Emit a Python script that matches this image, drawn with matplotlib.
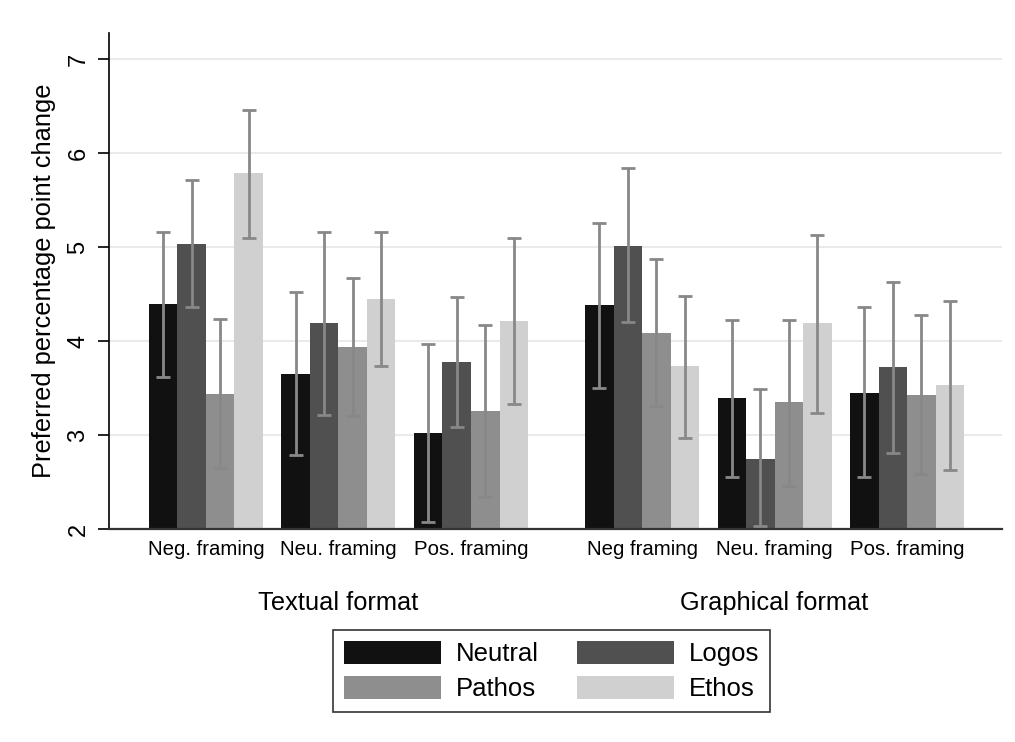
import matplotlib
matplotlib.use('Agg')
import matplotlib.pyplot as plt
import numpy as np

plt.rcParams['font.family'] = ['Liberation Sans', 'DejaVu Sans']

# categories
series = ['Neutral', 'Logos', 'Pathos', 'Ethos']
colores = ['#111111', '#505050', '#8e8e8e', '#d0d0d0']
framings = ['Neg. framing', 'Neu. framing', 'Pos. framing',
            'Neg framing', 'Neu. framing', 'Pos. framing']
formatos = ['Textual format', 'Graphical format']

# means per framing group (rows) and series (columns)
medias = np.array([
    [4.40, 5.03, 3.44, 5.79],
    [3.65, 4.19, 3.94, 4.45],
    [3.02, 3.78, 3.26, 4.21],
    [4.38, 5.01, 4.09, 3.73],
    [3.39, 2.75, 3.35, 4.19],
    [3.45, 3.72, 3.43, 3.53],
])
# upper / lower CI bounds
sup = np.array([
    [5.16, 5.71, 4.24, 6.46],
    [4.52, 5.16, 4.67, 5.16],
    [3.97, 4.47, 4.17, 5.10],
    [5.26, 5.84, 4.87, 4.48],
    [4.22, 3.49, 4.23, 5.13],
    [4.36, 4.63, 4.28, 4.43],
])
inf = np.array([
    [3.62, 4.36, 2.65, 5.10],
    [2.79, 3.21, 3.20, 3.74],
    [2.07, 3.09, 2.34, 3.33],
    [3.50, 4.20, 3.31, 2.97],
    [2.55, 2.03, 2.46, 3.23],
    [2.55, 2.81, 2.59, 2.63],
])

fig = plt.figure(figsize=(10.15, 7.42), dpi=100)
ax = fig.add_axes([0.1074, 0.2871, 0.8798, 0.6684])

# group centres (bar width = 1)
centros = []
x = 1.4
for g in range(6):
    if g == 3:
        x += 2.0 - 0.65
    centros.append(x + 2.0)
    x += 4.0 + 0.65
centros = np.array(centros)

for k in range(4):
    pos = centros - 1.5 + k
    ax.bar(pos, medias[:, k] - 2, bottom=2, width=1.0, color=colores[k],
           label=series[k], zorder=2)
    ax.errorbar(pos, medias[:, k],
                yerr=[medias[:, k] - inf[:, k], sup[:, k] - medias[:, k]],
                fmt='none', ecolor='#888888', elinewidth=2, capsize=4.7,
                capthick=2, zorder=3)

ax.set_xlim(0, 31.33)
ax.set_ylim(2, 7.28)
ax.set_yticks([2, 3, 4, 5, 6, 7])
ax.set_xticks(centros)
ax.set_xticklabels(framings)
ax.tick_params(axis='x', length=0, pad=8, labelsize=14.7)
ax.tick_params(axis='y', length=8, width=1.2, pad=6, labelsize=17,
               labelrotation=90)
for t in ax.get_yticklabels():
    t.set_va('center')
ax.grid(axis='y', color='#eaeaea', linewidth=1.5, zorder=0)
ax.set_axisbelow(True)
for s in ['top', 'right']:
    ax.spines[s].set_visible(False)
ax.spines['left'].set_linewidth(1.2)
ax.spines['bottom'].set_linewidth(1.6)
ax.spines['bottom'].set_color('#333333')
ax.set_ylabel('Preferred percentage point change', fontsize=18.3, labelpad=8)

# format labels under groups
ax.text(centros[1], -0.15, formatos[0], transform=ax.get_xaxis_transform(),
        ha='center', va='center', fontsize=18.3)
ax.text(centros[4], -0.15, formatos[1], transform=ax.get_xaxis_transform(),
        ha='center', va='center', fontsize=18.3)

h, l = ax.get_legend_handles_labels()
orden = [0, 2, 1, 3]
leg = fig.legend([h[i] for i in orden], [l[i] for i in orden], ncol=2,
                 loc='center', bbox_to_anchor=(0.5434, 0.0957), fontsize=18.5,
                 frameon=True, fancybox=False, edgecolor='black',
                 handlelength=3.77, handleheight=1.0, handletextpad=0.58,
                 labelspacing=0.39, borderpad=0.43, columnspacing=1.5,
                 borderaxespad=0)
leg.get_frame().set_linewidth(1.2)

plt.savefig('out.png', dpi=100)
